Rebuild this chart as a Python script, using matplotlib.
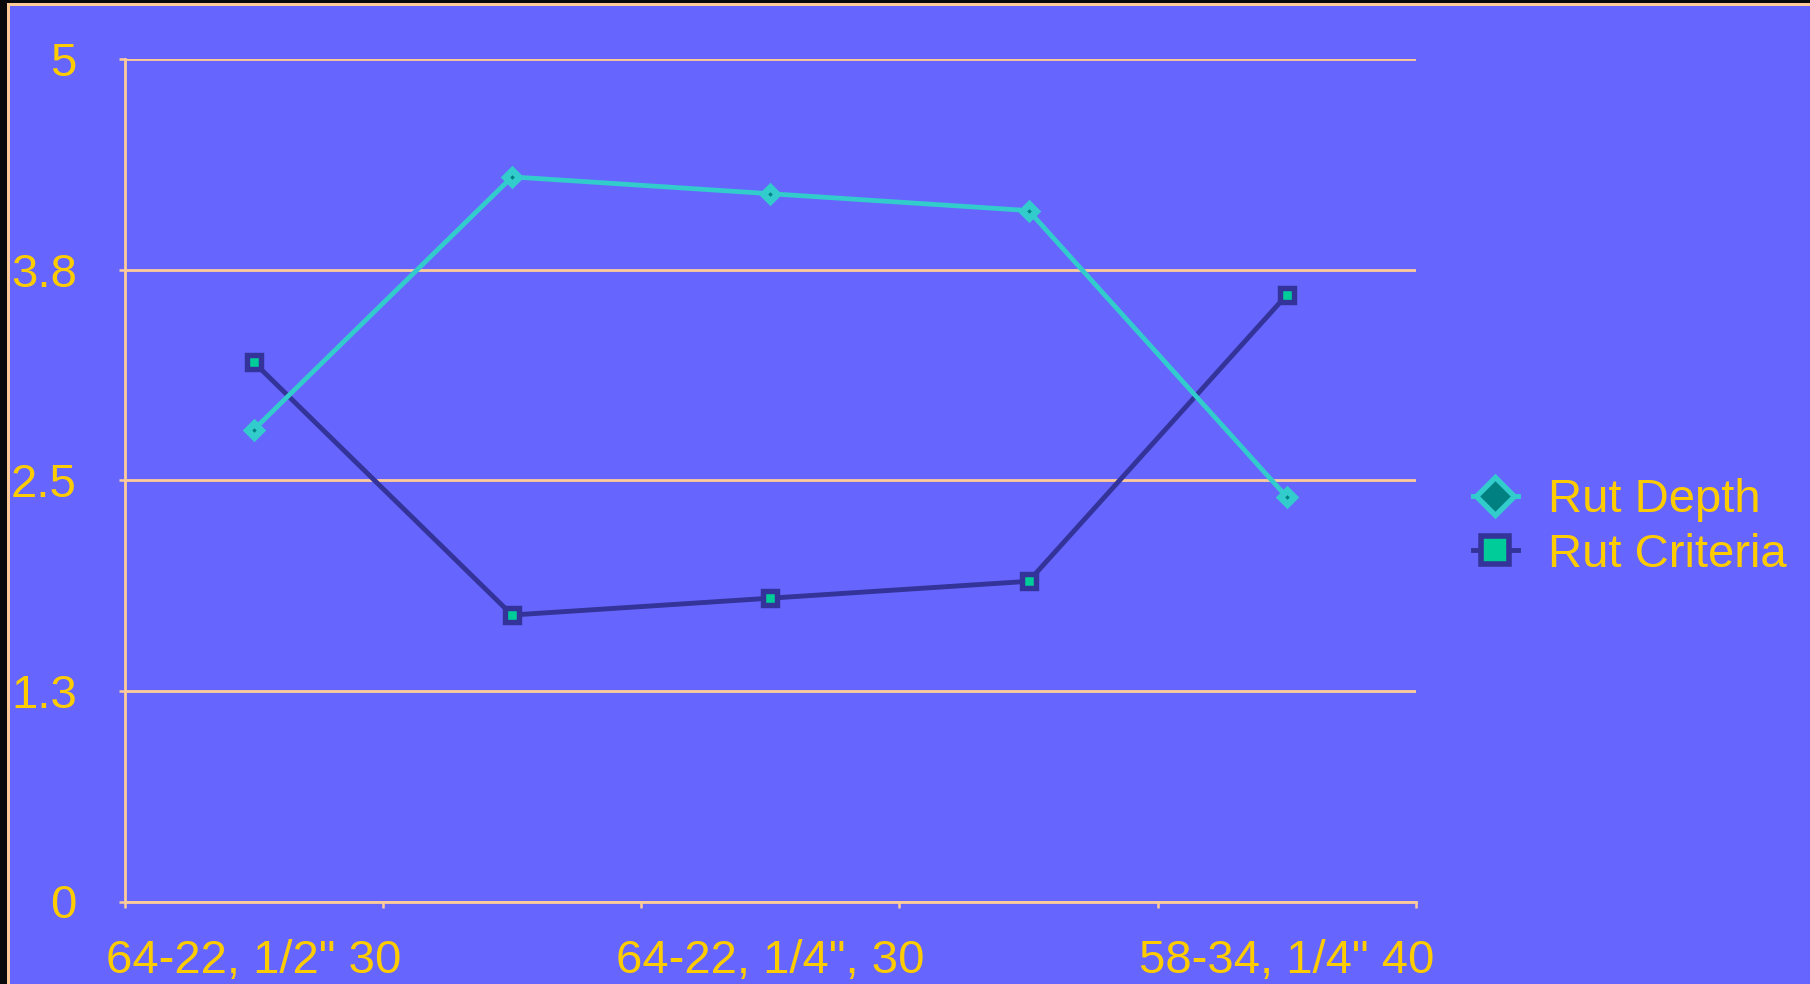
import matplotlib
matplotlib.use("Agg")
import matplotlib.pyplot as plt
from matplotlib.lines import Line2D
from matplotlib.patches import Rectangle

# ---- data ----
categories = ["64-22, 1/2\" 30", "", "64-22, 1/4\", 30", "", "58-34, 1/4\" 40"]
rut_depth = [2.8, 4.3, 4.2, 4.1, 2.4]
rut_criteria = [3.2, 1.7, 1.8, 1.9, 3.6]
y_ticks = [0, 1.25, 2.5, 3.75, 5]
y_tick_labels = ["0", "1.3", "2.5", "3.8", "5"]
series_names = ["Rut Depth", "Rut Criteria"]

# ---- style ----
BG = "#6666FF"
TEXT = "#FFCC00"
GRID = "#FFCC99"
CYAN = "#33CCCC"
TEAL = "#008080"
NAVY = "#333399"
GREEN = "#00CC99"
FS = 34

plt.rcParams["font.family"] = ["Liberation Sans", "DejaVu Sans"]

W, H = 1810, 984
fig = plt.figure(figsize=(W / 100, H / 100), dpi=100, facecolor=BG)

# frame strips along the left and top edges
fig.patches.append(Rectangle((0, 0), 7 / W, 1, transform=fig.transFigure,
                             facecolor="#0A0A0A", edgecolor="none", zorder=0))
fig.patches.append(Rectangle((0, 1 - 3 / H), 1, 3 / H, transform=fig.transFigure,
                             facecolor="#0A0A0A", edgecolor="none", zorder=0))
fig.patches.append(Rectangle((7 / W, 0), 2.5 / W, 1 - 3 / H, transform=fig.transFigure,
                             facecolor=GRID, edgecolor="none", zorder=1))
fig.patches.append(Rectangle((7 / W, 1 - 5.5 / H), 1, 2.5 / H, transform=fig.transFigure,
                             facecolor=GRID, edgecolor="none", zorder=1))

left, right, top, bottom = 124.7 / W, 1416 / W, 1 - 58.9 / H, 1 - 901.5 / H
ax = fig.add_axes([left, bottom, right - left, top - bottom])
ax.set_facecolor(BG)

x = list(range(len(categories)))

ax.plot(x, rut_criteria, color=NAVY, lw=3.5, marker="s", ms=9.8,
        mfc=GREEN, mec=NAVY, mew=3.9, solid_joinstyle="round", zorder=3,
        clip_on=False)
ax.plot(x, rut_depth, color=CYAN, lw=3.4, marker="D", ms=7.4,
        mfc=TEAL, mec=CYAN, mew=4.8, solid_joinstyle="round", zorder=4,
        clip_on=False)

ax.set_xlim(-0.5, len(categories) - 0.5)
ax.set_ylim(0, 5)

# gridlines
ax.set_yticks(y_ticks)
ax.set_yticklabels(y_tick_labels)
ax.yaxis.grid(True, color=GRID, lw=2.0)
ax.set_axisbelow(True)

# category axis: boundary tick marks, centred labels
ax.set_xticks(x)
ax.set_xticklabels(categories)
ax.set_xticks([i - 0.5 for i in range(len(categories) + 1)], minor=True)
ax.tick_params(axis="x", which="major", length=0, pad=27, labelsize=FS,
               labelcolor=TEXT)
ax.tick_params(axis="x", which="minor", length=4.5, width=1.8, color=GRID,
               direction="out")
ax.tick_params(axis="y", which="major", length=4.5, width=1.8, color=GRID,
               direction="out", pad=30, labelsize=FS, labelcolor=TEXT)

for side in ("top", "right"):
    ax.spines[side].set_visible(False)
for side in ("left", "bottom"):
    ax.spines[side].set_color(GRID)
    ax.spines[side].set_linewidth(2.0)

handles = [
    Line2D([], [], color=CYAN, lw=3.5, marker="D", ms=19, mfc=TEAL, mec=CYAN,
           mew=3.8, solid_joinstyle="round"),
    Line2D([], [], color=NAVY, lw=3.5, marker="s", ms=20, mfc=GREEN, mec=NAVY,
           mew=4.0, solid_joinstyle="round"),
]
leg = fig.legend(handles, series_names, loc="center left",
                 bbox_to_anchor=(1473 / W, 1 - 527.5 / H),
                 bbox_transform=fig.transFigure, frameon=False, fontsize=FS,
                 handlelength=0.95, handletextpad=0.64, labelspacing=0.23,
                 borderpad=0, borderaxespad=0)
for t in leg.get_texts():
    t.set_color(TEXT)

fig.savefig("out.png", dpi=100, facecolor=BG)
